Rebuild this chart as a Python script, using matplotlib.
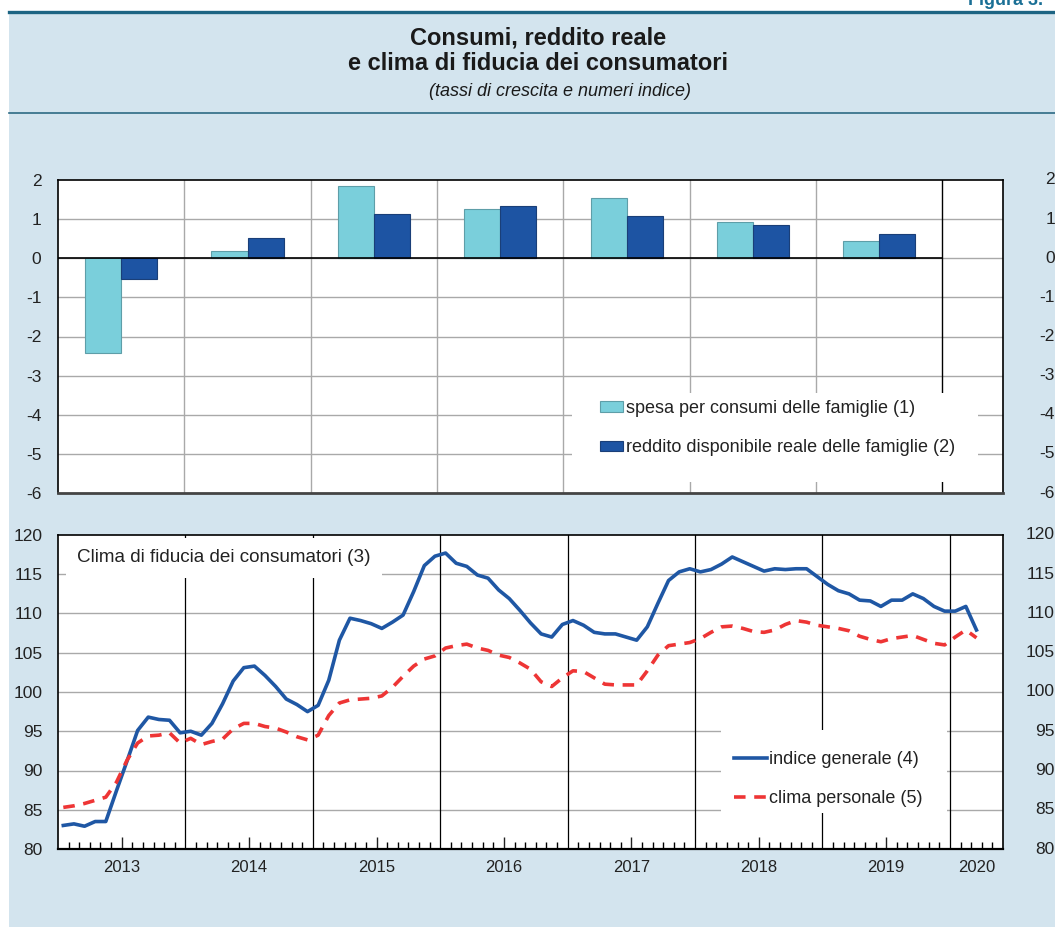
import numpy as np
import matplotlib.pyplot as plt
from matplotlib.patches import Rectangle
from matplotlib.lines import Line2D
import matplotlib.transforms as mtransforms

plt.rcParams['font.family'] = ['Liberation Sans', 'DejaVu Sans']
plt.rcParams['axes.unicode_minus'] = False

# --- dati ---
anni = ['2013', '2014', '2015', '2016', '2017', '2018', '2019']
spesa = [-2.43, 0.18, 1.84, 1.25, 1.55, 0.92, 0.43]
reddito = [-0.54, 0.51, 1.14, 1.33, 1.07, 0.86, 0.61]

anni_mesi = anni + ['2020']
# clima di fiducia, dati mensili gen 2013 - mar 2020
indice_generale = [83.0, 83.2, 82.9, 83.5, 83.5, 87.4, 91.2, 95.1, 96.8, 96.5, 96.4, 94.8,
                   95.0, 94.5, 96.0, 98.5, 101.4, 103.1, 103.3, 102.1, 100.7, 99.1, 98.4, 97.5,
                   98.3, 101.5, 106.6, 109.4, 109.1, 108.7, 108.1, 108.9, 109.8, 112.8, 116.1, 117.3,
                   117.7, 116.4, 116.0, 114.9, 114.5, 113.0, 111.9, 110.4, 108.8, 107.4, 107.0, 108.6,
                   109.1, 108.5, 107.6, 107.4, 107.4, 107.0, 106.6, 108.3, 111.3, 114.2, 115.3, 115.7,
                   115.3, 115.6, 116.3, 117.2, 116.6, 116.0, 115.4, 115.7, 115.6, 115.7, 115.7, 114.7,
                   113.7, 112.9, 112.5, 111.7, 111.6, 110.9, 111.7, 111.7, 112.5, 111.9, 110.9, 110.3,
                   110.3, 110.9, 107.9]
clima_personale = [85.3, 85.5, 85.8, 86.2, 86.6, 88.5, 91.3, 93.5, 94.4, 94.5, 94.8, 93.5,
                   94.1, 93.3, 93.7, 94.0, 95.3, 96.0, 96.0, 95.6, 95.4, 94.9, 94.3, 93.9,
                   94.5, 97.0, 98.6, 99.0, 99.1, 99.2, 99.5, 100.6, 102.0, 103.3, 104.2, 104.6,
                   105.6, 105.9, 106.1, 105.6, 105.3, 104.7, 104.4, 103.7, 102.9, 101.3, 100.7, 101.8,
                   102.7, 102.6, 101.8, 101.0, 100.9, 100.9, 100.9, 102.7, 104.7, 105.9, 106.1, 106.3,
                   106.8, 107.6, 108.3, 108.4, 108.1, 107.7, 107.6, 107.9, 108.6, 109.1, 108.9, 108.5,
                   108.3, 108.1, 107.8, 107.1, 106.7, 106.4, 106.8, 107.0, 107.2, 106.7, 106.2, 106.0,
                   107.0, 107.9, 106.9]

celeste = '#7ACFDB'
blu = '#1D54A3'
linea_blu = '#1F57A4'
rosso = '#EE3535'
sfondo = '#D3E4EE'
teal = '#1C6483'
griglia = '#A9A9A9'
testo = '#222222'

fig = plt.figure(figsize=(10.55, 9.27), dpi=100, facecolor='white')
W, H = 1055.0, 927.0

# pannello di sfondo e linee di testata
fig.patches.append(Rectangle((9 / W, 0), 1 - 9 / W, 1 - 12 / H, transform=fig.transFigure,
                             facecolor=sfondo, edgecolor='none', zorder=-5))
fig.lines.append(Line2D([9 / W, 1], [1 - 12 / H, 1 - 12 / H], transform=fig.transFigure,
                        color=teal, lw=2.4, zorder=-4))
fig.lines.append(Line2D([9 / W, 1], [1 - 113 / H, 1 - 113 / H], transform=fig.transFigure,
                        color='#2D6A84', lw=1.2, zorder=-4))
fig.text(968 / W, 1 - 5 / H, 'Figura 3.', color='#1A6F95', fontsize=13, fontweight='bold',
         ha='left', va='baseline')

fig.text(538 / W, 1 - 38 / H, 'Consumi, reddito reale', fontsize=17,
         fontweight='bold', ha='center', va='center', color='#1a1a1a')
fig.text(538 / W, 1 - 64 / H, 'e clima di fiducia dei consumatori', fontsize=17,
         fontweight='bold', ha='center', va='center', color='#1a1a1a')
fig.text(560 / W, 1 - 91 / H, '(tassi di crescita e numeri indice)', fontsize=13,
         style='italic', ha='center', va='center', color='#1a1a1a')

# ---------------- grafico a barre ----------------
ax1 = fig.add_axes([58 / W, 1 - 493 / H, 945 / W, 313 / H])
x = np.arange(len(anni)) + 0.5
w = 0.285
ax1.bar(x - w / 2, spesa, w, color=celeste, edgecolor='#5E9EA8', lw=0.8, zorder=3,
        label='spesa per consumi delle famiglie (1)')
ax1.bar(x + w / 2, reddito, w, color=blu, edgecolor='#1A3F78', lw=0.8, zorder=3,
        label='reddito disponibile reale delle famiglie (2)')
ax1.set_xlim(0, 7.48)
ax1.set_ylim(-6, 2)
ax1.set_yticks(range(-6, 3))
ax1.set_xticks([])
for v in range(-5, 2):
    ax1.axhline(v, color=griglia, lw=1, zorder=0.5)
for k in range(1, 7):
    ax1.axvline(k, color=griglia, lw=1, zorder=0.5)
ax1.axvline(7, color='black', lw=1, zorder=1)
ax1.plot([0, 7], [0, 0], color='black', lw=1.2, zorder=4)
ax1.tick_params(axis='y', length=0, pad=12, labelsize=12.5, colors=testo)
for sp in ['left', 'top', 'right']:
    ax1.spines[sp].set_color('black')
    ax1.spines[sp].set_linewidth(1.2)
ax1.spines['bottom'].set_color('#444444')
ax1.spines['bottom'].set_linewidth(2)
tr1 = mtransforms.blended_transform_factory(ax1.transAxes, ax1.transData)
for v in range(-6, 3):
    ax1.text(1.055, v, str(v), transform=tr1, ha='right', va='center', fontsize=12.5,
             color=testo, clip_on=False)
ax1.add_patch(Rectangle((0.5439, 0.0351), 0.4296, 0.2844, transform=ax1.transAxes,
                        facecolor='white', edgecolor='none', zorder=2))
ax1.legend(loc='upper left', bbox_to_anchor=(0.5735, 0.297), frameon=False, fontsize=13,
           borderpad=0, borderaxespad=0, handlelength=1.28, handleheight=0.5,
           handletextpad=0.17, labelspacing=1.22, labelcolor=testo)

# ---------------- grafico a linee ----------------
ax2 = fig.add_axes([58 / W, 1 - 849 / H, 945 / W, 314 / H])
mesi = np.arange(len(indice_generale)) + 0.5
ax2.plot(mesi, indice_generale, color=linea_blu, lw=2.6, zorder=3, label='indice generale (4)')
ax2.plot(mesi, clima_personale, color=rosso, lw=2.6, dashes=(3.2, 2.4), zorder=3,
         label='clima personale (5)')
ax2.set_xlim(0, 89)
ax2.set_ylim(80, 120)
ax2.set_yticks(range(80, 121, 5))
for v in range(85, 120, 5):
    ax2.axhline(v, color=griglia, lw=1, zorder=0.5)
for k in range(12, 89, 12):
    ax2.axvline(k, color='black', lw=0.9, zorder=1)

centri = [12 * i + 6 for i in range(7)] + [86.5]
ax2.set_xticks(centri)
ax2.set_xticklabels(anni_mesi)
ax2.xaxis.get_major_ticks()[-1].tick1line.set_visible(False)
minori = [m for m in range(1, 89) if m % 12 not in (0, 6)]
ax2.set_xticks(minori, minor=True)
ax2.tick_params(axis='x', which='major', direction='in', length=9, width=1, pad=8,
                labelsize=12, colors=testo)
ax2.tick_params(axis='x', which='minor', direction='in', length=5, width=1)
ax2.tick_params(axis='y', length=0, pad=11, labelsize=12.5, colors=testo)
for sp in ax2.spines.values():
    sp.set_color('black')
    sp.set_linewidth(1.2)
ax2.spines['bottom'].set_linewidth(1.6)
tr2 = mtransforms.blended_transform_factory(ax2.transAxes, ax2.transData)
for v in range(80, 121, 5):
    ax2.text(1.055, v, str(v), transform=tr2, ha='right', va='center', fontsize=12.5,
             color=testo, clip_on=False)
ax2.text(0.0201, 0.9268, 'Clima di fiducia dei consumatori (3)', transform=ax2.transAxes,
         fontsize=13.6, color=testo, va='center', ha='left', zorder=2,
         bbox=dict(boxstyle='square,pad=0.6', facecolor='white', edgecolor='none'))
ax2.add_patch(Rectangle((0.7016, 0.1146), 0.2391, 0.2644, transform=ax2.transAxes,
                        facecolor='white', edgecolor='none', zorder=2))
ax2.legend(loc='upper left', bbox_to_anchor=(0.7153, 0.312), frameon=False, fontsize=13,
           borderpad=0, borderaxespad=0, handlelength=1.83, handletextpad=0.11,
           labelspacing=1.22, labelcolor=testo)

plt.savefig('out.png', dpi=100, facecolor='white')
